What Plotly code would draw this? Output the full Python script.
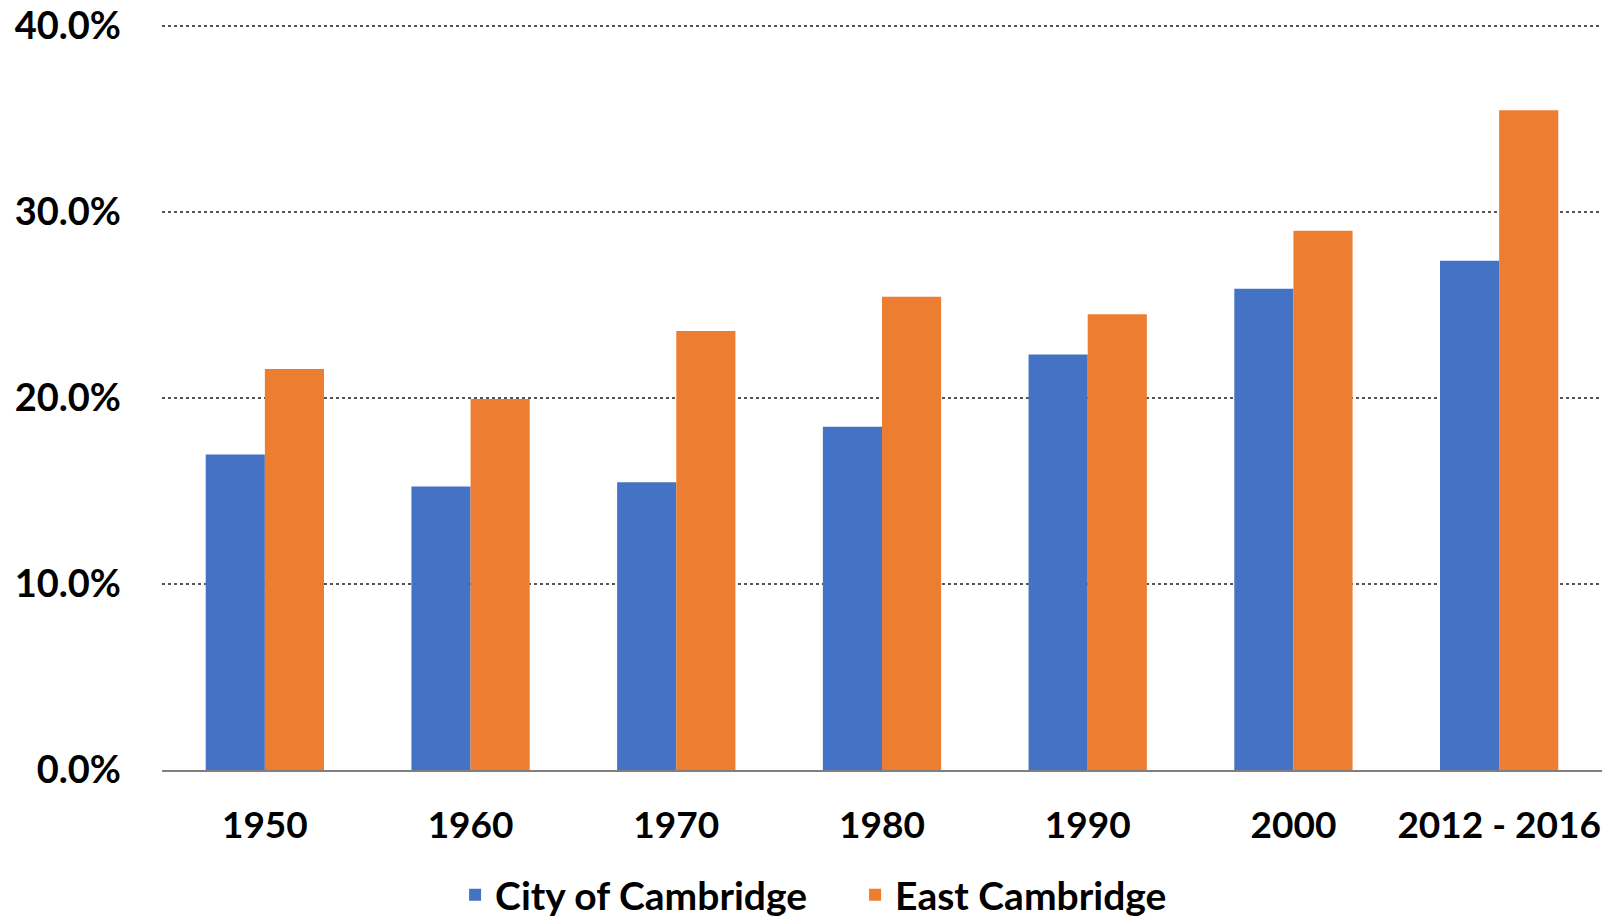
import plotly.graph_objects as go

categories = ["1950", "1960", "1970", "1980", "1990", "2000", "2012 - 2016"]
city_values = [16.95, 15.24, 15.46, 18.45, 22.33, 25.87, 27.37]
east_values = [21.55, 19.94, 23.60, 25.43, 24.49, 28.98, 35.46]
series_names = ["City of Cambridge", "East Cambridge"]
y_ticks = [0, 10, 20, 30, 40]
y_tick_labels = ["0.0%", "10.0%", "20.0%", "30.0%", "40.0%"]

FONT = "Lato"
fig = go.Figure()
fig.add_trace(go.Bar(x=categories, y=city_values, name=series_names[0],
                     marker=dict(color="#4472C4", line=dict(width=0))))
fig.add_trace(go.Bar(x=categories, y=east_values, name=series_names[1],
                     marker=dict(color="#ED7D31", line=dict(width=0))))

fig.update_layout(
    width=1614, height=919,
    margin=dict(l=154, r=20, t=14, b=157, autoexpand=False),
    paper_bgcolor="white", plot_bgcolor="white",
    barmode="group", bargap=0.425, bargroupgap=0,
    font=dict(family=FONT, size=37, color="black", weight=700),
    showlegend=True,
    legend=dict(orientation="h", xref="container", yref="container",
                x=0.277, xanchor="left", y=0.035, yanchor="middle",
                entrywidth=355, entrywidthmode="pixels",
                font=dict(family=FONT, size=39, color="black", weight=700),
                itemwidth=30, bgcolor="rgba(0,0,0,0)"),
)
fig.update_yaxes(range=[0, 40.2], tickvals=y_ticks, ticktext=y_tick_labels,
                 showgrid=True, gridcolor="#555555", gridwidth=1.5, griddash="dot",
                 zeroline=False, showline=False, ticks="", ticklabelstandoff=40,
                 ticklabeloverflow="allow",
                 tickfont=dict(family=FONT, size=38, color="black", weight=700))
fig.update_xaxes(showline=True, linecolor="#7F7F7F", linewidth=2, ticks="",
                 showgrid=False, ticklabelstandoff=22,
                 tickfont=dict(family=FONT, size=37, color="black", weight=700))

fig.write_html("out.html")
